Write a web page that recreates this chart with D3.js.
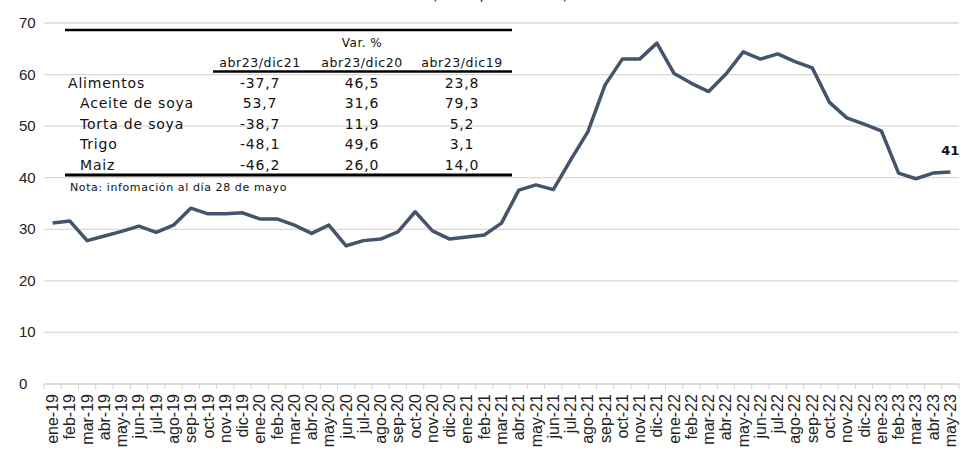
<!DOCTYPE html>
<html>
<head>
<meta charset="utf-8">
<script src="https://cdn.jsdelivr.net/npm/d3@7"></script>
<style>
  body { margin: 0; background: #fff; }
  svg { display: block; }
  .tick text { font-family: "Liberation Sans", Arial, sans-serif; fill: #222; }
  .tbl { font-family: "DejaVu Sans", sans-serif; fill: #111; }
</style>
</head>
<body>
<svg id="chart"></svg>
<script>
const chartSize = {width: 960, height: 449};
const margin = {left: 44, right: 1, top: 23, bottom: 65};
const width = chartSize.width - margin.left - margin.right;
const height = chartSize.height - margin.top - margin.bottom;

const months = [
  "ene-19","feb-19","mar-19","abr-19","may-19","jun-19","jul-19","ago-19","sep-19","oct-19","nov-19","dic-19",
  "ene-20","feb-20","mar-20","abr-20","may-20","jun-20","jul-20","ago-20","sep-20","oct-20","nov-20","dic-20",
  "ene-21","feb-21","mar-21","abr-21","may-21","jun-21","jul-21","ago-21","sep-21","oct-21","nov-21","dic-21",
  "ene-22","feb-22","mar-22","abr-22","may-22","jun-22","jul-22","ago-22","sep-22","oct-22","nov-22","dic-22",
  "ene-23","feb-23","mar-23","abr-23","may-23"
];
const values = [
  31.2, 31.6, 27.8, 28.7, 29.6, 30.6, 29.4, 30.8, 34.1, 33.0, 33.0, 33.2,
  32.0, 32.0, 30.8, 29.2, 30.8, 26.8, 27.8, 28.1, 29.5, 33.4, 29.7, 28.1,
  28.5, 28.9, 31.2, 37.6, 38.6, 37.7, 43.4, 48.9, 58.0, 63.0, 63.0, 66.1,
  60.2, 58.3, 56.7, 60.1, 64.4, 63.0, 64.0, 62.5, 61.3, 54.6, 51.6, 50.4,
  49.1, 40.9, 39.8, 40.9, 41.1
];
const yTicks = [0, 10, 20, 30, 40, 50, 60, 70];
const lastLabel = "41";

const tableHeaders = ["abr23/dic21", "abr23/dic20", "abr23/dic19"];
const tableRows = ["Alimentos", "Aceite de soya", "Torta de soya", "Trigo", "Maiz"];
const tableValues = [
  ["-37,7", "46,5", "23,8"],
  ["53,7", "31,6", "79,3"],
  ["-38,7", "11,9", "5,2"],
  ["-48,1", "49,6", "3,1"],
  ["-46,2", "26,0", "14,0"]
];
const tableNote = "Nota: infomación al día 28 de mayo";

const svg = d3.select("#chart")
  .attr("width", chartSize.width)
  .attr("height", chartSize.height);

// title, only its lower edge shows at the top of the source
svg.append("text")
  .attr("x", 500)
  .attr("y", 0)
  .attr("text-anchor", "middle")
  .style("font-family", "DejaVu Sans, sans-serif")
  .style("font-size", "14px")
  .attr("fill", "#222")
  .text("(índice, 2016=100)");

const g = svg.append("g")
  .attr("transform", `translate(${margin.left},${margin.top})`);

const x = d3.scaleBand()
  .domain(months)
  .range([0, width]);

const y = d3.scaleLinear()
  .domain([0, 70])
  .range([height, 0]);

// grid
g.append("g")
  .selectAll("line")
  .data(yTicks.slice(1))
  .enter()
  .append("line")
  .attr("x1", 0)
  .attr("x2", width)
  .attr("y1", d => y(d))
  .attr("y2", d => y(d))
  .attr("stroke", "#d9d9d9")
  .attr("stroke-width", 1.3);

// y labels (left aligned like the original)
g.append("g")
  .attr("class", "tick")
  .selectAll("text")
  .data(yTicks)
  .enter()
  .append("text")
  .attr("x", -25)
  .attr("y", d => y(d) + 5)
  .style("font-size", "15px")
  .text(d => d);

// x axis with ticks between categories
const xAxisG = g.append("g")
  .attr("transform", `translate(0,${height})`);

xAxisG.append("line")
  .attr("x1", 0).attr("x2", width)
  .attr("stroke", "#d0d0d0").attr("stroke-width", 1.3);

xAxisG.selectAll(".sep")
  .data(months.concat([null]))
  .enter()
  .append("line")
  .attr("class", "sep")
  .attr("x1", (d, i) => i * x.step())
  .attr("x2", (d, i) => i * x.step())
  .attr("y1", 0).attr("y2", 5)
  .attr("stroke", "#d0d0d0").attr("stroke-width", 1);

xAxisG.append("g")
  .attr("class", "tick")
  .selectAll("text")
  .data(months)
  .enter()
  .append("text")
  .attr("transform", d => `translate(${x(d) + x.bandwidth() / 2 + 5.5},10) rotate(-90)`)
  .attr("text-anchor", "end")
  .style("font-size", "16px")
  .text(d => d);

// line
const line = d3.line()
  .x((d, i) => x(months[i]) + x.bandwidth() / 2)
  .y(d => y(d));

g.append("path")
  .datum(values)
  .attr("d", line)
  .attr("fill", "none")
  .attr("stroke", "#44546a")
  .attr("stroke-width", 3.5)
  .attr("stroke-linejoin", "round");

const lastIdx = values.length - 1;
g.append("text")
  .attr("x", x(months[lastIdx]) + x.bandwidth() / 2)
  .attr("y", y(values[lastIdx]) - 17)
  .attr("text-anchor", "middle")
  .style("font-family", "DejaVu Sans, sans-serif")
  .style("font-weight", "bold")
  .style("font-size", "13px")
  .attr("fill", "#111")
  .text(lastLabel);

// embedded table
const t = svg.append("g").attr("class", "tbl");
const colX = [260, 362, 462];
const rowY = [88, 108, 129, 149, 170];

t.append("line").attr("x1", 65).attr("x2", 512).attr("y1", 30).attr("y2", 30)
  .attr("stroke", "#000").attr("stroke-width", 2.5);
t.append("line").attr("x1", 213).attr("x2", 512).attr("y1", 71.5).attr("y2", 71.5)
  .attr("stroke", "#000").attr("stroke-width", 2.5);
t.append("line").attr("x1", 65).attr("x2", 512).attr("y1", 175).attr("y2", 175)
  .attr("stroke", "#000").attr("stroke-width", 3);

t.append("text")
  .attr("x", 362).attr("y", 47)
  .attr("text-anchor", "middle")
  .style("font-size", "12px")
  .style("letter-spacing", "0.5px")
  .text("Var. %");

t.selectAll(".hdr")
  .data(tableHeaders)
  .enter()
  .append("text")
  .attr("class", "hdr")
  .attr("x", (d, i) => colX[i])
  .attr("y", 67)
  .attr("text-anchor", "middle")
  .style("font-size", "12.5px")
  .style("letter-spacing", "0.6px")
  .text(d => d);

t.selectAll(".rowlab")
  .data(tableRows)
  .enter()
  .append("text")
  .attr("class", "rowlab")
  .attr("x", (d, i) => i === 0 ? 68 : 80)
  .attr("y", (d, i) => rowY[i])
  .style("font-size", "14px")
  .style("letter-spacing", "0.8px")
  .text(d => d);

tableValues.forEach((row, r) => {
  t.selectAll(".v" + r)
    .data(row)
    .enter()
    .append("text")
    .attr("x", (d, i) => colX[i])
    .attr("y", rowY[r])
    .attr("text-anchor", "middle")
    .style("font-size", "14px")
    .style("letter-spacing", "0.8px")
    .text(d => d);
});

t.append("text")
  .attr("x", 70).attr("y", 191)
  .style("font-size", "11px")
  .style("letter-spacing", "0.6px")
  .text(tableNote);
</script>
</body>
</html>
